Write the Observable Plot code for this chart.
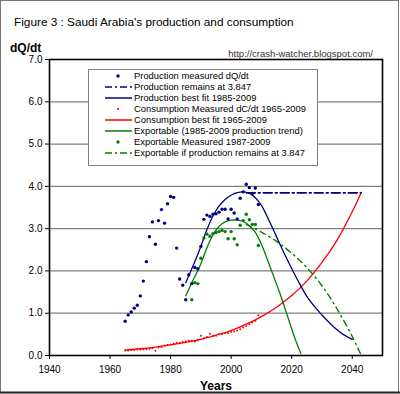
<!DOCTYPE html>
<html>
<head>
<meta charset="utf-8">
<script src="https://cdn.jsdelivr.net/npm/d3@7"></script>
<script src="https://cdn.jsdelivr.net/npm/@observablehq/plot@0.6"></script>
<style>
  html, body { margin: 0; padding: 0; background: #fff; }
  #chart svg { display: block; }
</style>
</head>
<body>
<div id="chart"></div>
<script>
// ---- Data ----
const prodYears = [1965,1966,1967,1968,1969,1970,1971,1972,1973,1974,1975,1976,1977,1978,1979,1980,1981,1982,1983,1984,1985,1986,1987,1988,1989,1990,1991,1992,1993,1994,1995,1996,1997,1998,1999,2000,2001,2002,2003,2004,2005,2006,2007,2008,2009];
const prodMeasured = [0.81,0.96,1.03,1.12,1.19,1.41,1.76,2.22,2.81,3.16,2.63,3.19,3.45,3.13,3.59,3.76,3.74,2.54,1.81,1.66,1.32,1.91,1.70,2.08,2.05,2.58,3.22,3.32,3.29,3.34,3.35,3.39,3.46,3.46,3.23,3.46,3.37,3.23,3.72,3.87,4.05,3.97,3.83,3.96,3.57];

const plateauYears = [2005, 2043];
const plateauValues = [3.847, 3.847];

const prodFitYears = [1985,1987,1990,1992,1994,1996,1998,2000,2002,2004,2006,2008,2010,2013,2016,2019,2022,2025,2028,2031,2034,2037,2040];
const prodFitValues = [1.72,2.05,2.58,2.98,3.30,3.53,3.69,3.79,3.85,3.87,3.84,3.73,3.55,3.12,2.65,2.20,1.78,1.40,1.12,0.88,0.67,0.50,0.38];

const consYears = [1965,1966,1967,1968,1969,1970,1971,1972,1973,1974,1975,1976,1977,1978,1979,1980,1981,1982,1983,1984,1985,1986,1987,1988,1989,1990,1991,1992,1993,1994,1995,1996,1997,1998,1999,2000,2001,2002,2003,2004,2005,2006,2007,2008,2009];
const consMeasured = [0.12,0.12,0.13,0.13,0.14,0.14,0.15,0.15,0.16,0.17,0.11,0.19,0.20,0.23,0.25,0.26,0.28,0.30,0.30,0.32,0.33,0.35,0.35,0.33,0.36,0.47,0.41,0.44,0.51,0.46,0.47,0.50,0.51,0.53,0.53,0.56,0.57,0.59,0.62,0.66,0.70,0.74,0.78,0.82,0.95];

const consFitYears = [1965,1970,1975,1980,1985,1990,1995,2000,2005,2010,2015,2020,2025,2030,2035,2040,2043];
const consFitValues = [0.13,0.16,0.20,0.25,0.31,0.38,0.48,0.59,0.74,0.92,1.14,1.42,1.76,2.20,2.73,3.40,3.86];

const expFitYears = [1985,1987,1990,1992,1994,1996,1998,2000,2002,2004,2006,2008,2010,2013,2016,2019,2021,2023];
const expFitValues = [1.41,1.72,2.17,2.55,2.85,3.05,3.16,3.20,3.20,3.17,3.07,2.91,2.63,2.07,1.49,0.85,0.42,0.05];

const expMeasYears = [1987,1988,1989,1990,1991,1992,1993,1994,1995,1996,1997,1998,1999,2000,2001,2002,2003,2004,2005,2006,2007,2008,2009];
const expMeasured = [1.32,1.72,1.70,2.30,2.78,2.87,2.82,2.88,2.91,2.93,2.96,2.93,2.76,2.93,2.76,2.62,3.08,3.19,3.34,3.21,3.10,3.10,2.60];

const expPlateauYears = [2005,2010,2015,2020,2025,2030,2035,2040,2043];
const expPlateauValues = [3.10,2.92,2.70,2.42,2.08,1.65,1.10,0.45,0.0];

const xTicks = [1940,1960,1980,2000,2020,2040];
const yTicks = [0,1,2,3,4,5,6,7];

const legendItems = [
  {label: "Production measured dQ/dt", color: "#000080", type: "dot"},
  {label: "Production remains at 3.847", color: "#000080", type: "dashdot"},
  {label: "Production best fit 1985-2009", color: "#000080", type: "line"},
  {label: "Consumption Measured dC/dt 1965-2009", color: "#ff0000", type: "dot"},
  {label: "Consumption best fit 1965-2009", color: "#ff0000", type: "line"},
  {label: "Exportable (1985-2009 production trend)", color: "#008000", type: "line"},
  {label: "Exportable Measured 1987-2009", color: "#008000", type: "dot"},
  {label: "Exportable if production remains at 3.847", color: "#008000", type: "dashdot"}
];

// ---- build tables ----
const zip = (xs, ys) => xs.map((x, i) => ({x, y: ys[i]}));
const prodPts = zip(prodYears, prodMeasured);
const plateau = zip(plateauYears, plateauValues);
const prodFit = zip(prodFitYears, prodFitValues);
const consPts = zip(consYears, consMeasured);
const consFit = zip(consFitYears, consFitValues);
const expFit = zip(expFitYears, expFitValues);
const expPts = zip(expMeasYears, expMeasured);
const expPlateau = zip(expPlateauYears, expPlateauValues);

const NAVY = "#000080", RED = "#ff0000", GREEN = "#008000";
const FONT = "'Liberation Sans', Arial, sans-serif";

const chart = Plot.plot({
  width: 400,
  height: 394,
  marginTop: 59,
  marginRight: 18,
  marginBottom: 39,
  marginLeft: 49,
  style: {fontFamily: FONT, fontSize: "10px", background: "#fff", color: "#000"},
  x: {domain: [1940, 2050], ticks: xTicks, tickFormat: d => String(d), label: null},
  y: {domain: [0, 7], ticks: yTicks, tickFormat: d => d.toFixed(1), label: null},
  marks: [
    Plot.gridY(yTicks.slice(1, -1), {stroke: "#808080", strokeOpacity: 1, strokeWidth: 1.2}),
    Plot.axisX({ticks: xTicks, tickFormat: d => String(d), tickSize: 4, tickPadding: 6, fontSize: 10, label: null}),
    Plot.axisY({ticks: yTicks, tickFormat: d => d.toFixed(1), tickSize: 4, tickPadding: 3, fontSize: 10, label: null}),
    Plot.line(consFit, {x: "x", y: "y", stroke: RED, strokeWidth: 1.3, curve: "catmull-rom"}),
    Plot.dot(consPts, {x: "x", y: "y", r: 1, fill: RED, stroke: "none"}),
    Plot.line(expPlateau, {x: "x", y: "y", stroke: GREEN, strokeWidth: 1.4, strokeDasharray: "6,4,1.5,4", curve: "catmull-rom"}),
    Plot.line(expFit, {x: "x", y: "y", stroke: GREEN, strokeWidth: 1.3, curve: "catmull-rom"}),
    Plot.line(plateau, {x: "x", y: "y", stroke: NAVY, strokeWidth: 1.6, strokeDasharray: "9,3,2,3"}),
    Plot.line(prodFit, {x: "x", y: "y", stroke: NAVY, strokeWidth: 1.3, curve: "catmull-rom"}),
    Plot.dot(expPts, {x: "x", y: "y", r: 1.7, fill: GREEN, stroke: "none"}),
    Plot.dot(prodPts, {x: "x", y: "y", r: 1.7, fill: NAVY, stroke: "none"}),
    Plot.frame({stroke: "#000", strokeWidth: 1.6})
  ]
});

document.getElementById("chart").appendChild(chart);

// ---- annotations: title, axis names, url, legend, outer border ----
const svg = d3.select(chart);
svg.append("rect").attr("x", 0.5).attr("y", 0.5).attr("width", 398).attr("height", 392)
  .attr("fill", "none").attr("stroke", "#777").attr("stroke-width", 1);
svg.append("line").attr("x1", 0).attr("x2", 400).attr("y1", 392.5).attr("y2", 392.5)
  .attr("stroke", "#222").attr("stroke-width", 2);

const T = (x, y, txt, size, opts = {}) => svg.append("text")
  .attr("x", x).attr("y", y)
  .attr("text-anchor", opts.anchor || "start")
  .attr("font-family", FONT).attr("font-size", size)
  .attr("font-weight", opts.bold ? "bold" : "normal")
  .attr("fill", opts.fill || "#000")
  .text(txt);

T(14, 26, "Figure 3 : Saudi Arabia's production and consumption", 11.8);
T(10, 52, "dQ/dt", 12, {bold: true});
T(200, 390, "Years", 12, {bold: true});
T(373, 57, "http://crash-watcher.blogspot.com/", 9.5, {anchor: "end", fill: "#333"});

const lg = svg.append("g");
lg.append("rect").attr("x", 88.5).attr("y", 69.5).attr("width", 229).attr("height", 96)
  .attr("fill", "#fff").attr("stroke", "#808080").attr("stroke-width", 1);
legendItems.forEach((d, i) => {
  const cy = 76 + i * 11;
  if (d.type === "dot") {
    lg.append("circle").attr("cx", 118).attr("cy", cy).attr("r", d.color === RED ? 1.1 : 1.7).attr("fill", d.color);
  } else {
    lg.append("line").attr("x1", 105).attr("x2", 132).attr("y1", cy).attr("y2", cy)
      .attr("stroke", d.color).attr("stroke-width", 1.5)
      .attr("stroke-dasharray", d.type === "dashdot" ? "7,3,2,3" : null);
  }
  lg.append("text").attr("x", 134).attr("y", cy).attr("dy", "0.35em")
    .attr("text-anchor", "start").attr("font-family", FONT)
    .attr("font-size", 9.4).attr("fill", "#000").text(d.label);
});
</script>
</body>
</html>
